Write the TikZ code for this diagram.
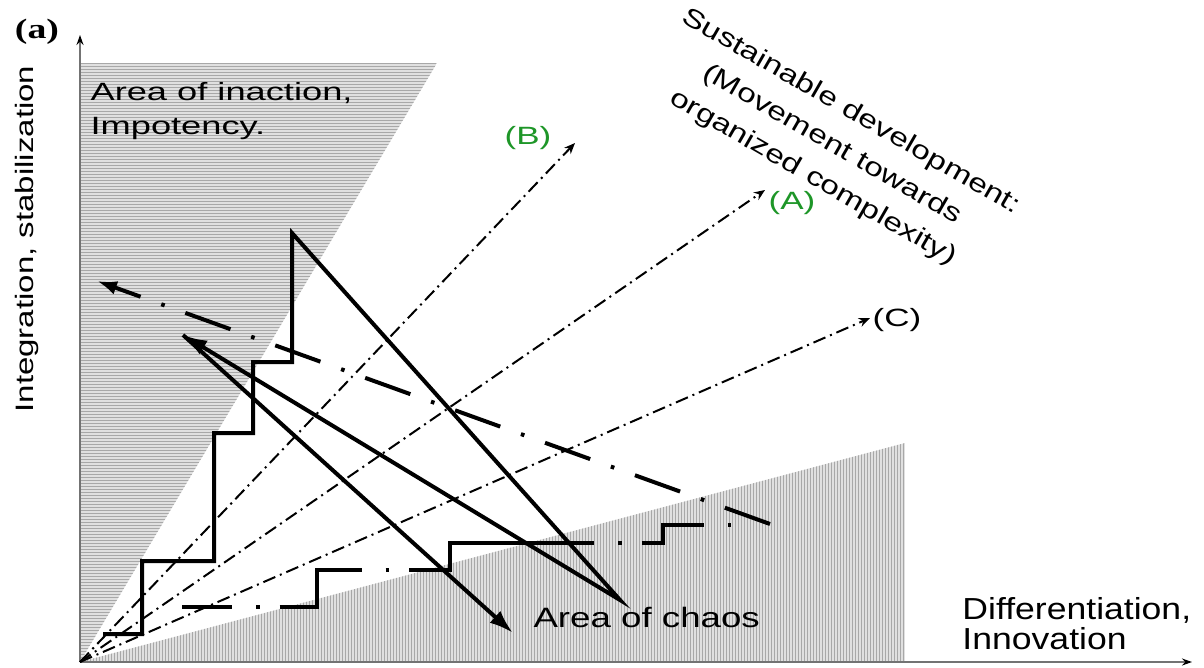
\documentclass[tikz,border=0pt]{standalone}
\usepackage{fontspec}
\setmainfont{Liberation Sans}
\newfontfamily\panelfont{Liberation Serif}
\usetikzlibrary{arrows.meta, positioning}
\definecolor{labgreen}{RGB}{30,150,40}
\definecolor{hatchfill}{gray}{0.88}
\definecolor{hatchline}{gray}{0.66}
\newcommand{\fsz}[2]{\fontsize{#1}{#2}\selectfont}

\begin{document}
\begin{tikzpicture}[
    x=0.5pt, y=-0.5pt,
    axis/.style={draw=black!55, line width=1pt, -{Stealth[length=5pt, width=3.5pt, color=black]}},
    hatch/.style={hatchline, line width=0.45pt},
    thickline/.style={line width=2pt, line join=miter},
    solidarrow/.style={thickline, -{Latex[length=12pt, width=8pt]}},
    chain/.style={line width=2pt, dash pattern=on 24pt off 11pt on 1.8pt off 11pt},
    ray/.style={line width=1pt, dash pattern=on 6.5pt off 2.5pt on 1pt off 2.5pt, -{Stealth[length=5.5pt, width=4.5pt]}},
    label/.style={inner sep=0pt, align=left},
    casename/.style={inner sep=0pt, text=labgreen, xscale=1.4, font=\fsz{12.5pt}{15pt}}
]
\useasboundingbox (0,0) rectangle (1204,668);

% Corner points
\coordinate (origin) at (80,662);
\coordinate (ytop) at (80,35);
\coordinate (xend) at (1192,662);

% Area of inaction (horizontal hatching)
\begin{scope}
\clip (80,662) -- (80,63) -- (437,63) -- cycle;
\fill[hatchfill] (80,63) rectangle (437,662);
\foreach \y in {63,66,...,660} \draw[hatch] (80,\y) -- (437,\y);
\end{scope}

% Area of chaos (vertical hatching)
\begin{scope}
\clip (80,662) -- (905,443) -- (905,662) -- cycle;
\fill[hatchfill] (80,443) rectangle (905,662);
\foreach \x in {81,84,...,905} \draw[hatch] (\x,443) -- (\x,662);
\end{scope}

% Axes
\draw[axis] (origin) -- (ytop);
\draw[axis] (origin) -- (xend);

% Texts
\node[font=\panelfont\bfseries\fsz{14pt}{16pt}, xscale=1.35, inner sep=0pt] (panel) at (37,32) {(a)};
\node[label, rotate=90, xscale=1.31, anchor=base, font=\fsz{12.6pt}{15pt}] (ylab) at (33,239) {Integration, stabilization};
\node[label, xscale=1.45, anchor=north west, font=\fsz{12.5pt}{17pt}] (inaction) at (90,82) {Area of inaction,\\Impotency.};
\node[label, xscale=1.31, anchor=base west, font=\fsz{14pt}{16pt}] (chaos) at (533,627) {Area of chaos};
\node[label, xscale=1.17, anchor=north west, font=\fsz{15.2pt}{15pt}] (xlab) at (962,597) {Differentiation,\\Innovation};
\node[inner sep=0pt, align=center, rotate=-30, xscale=1.3, font=\fsz{12.9pt}{19pt}] (sustain) at (832,145)
    {Sustainable development:\\(Movement towards\\organized complexity)};

% Development paths (A), (B), (C)
\coordinate (tipB) at (575,143);
\coordinate (tipA) at (765,190);
\coordinate (tipC) at (870,318);
\draw[ray] (origin) -- (tipB);
\draw[ray] (origin) -- (tipA);
\draw[ray] (origin) -- (tipC);
\node[casename] (labB) at (528,138) {(B)};
\node[casename] (labA) at (792,203) {(A)};
\node[casename, text=black] (labC) at (897,320) {(C)};

% Solid staircase with swings
\draw[solidarrow] (103,634) -- (142,634) -- (142,561) -- (214,561) -- (214,433) -- (253,433)
    -- (253,362) -- (292,362) -- (292,233) -- (620,600) -- (183,335);
\draw[solidarrow] (183,335) -- (513,633);

% Dash-dot staircase
\draw[line width=2pt, line join=miter,
      dash pattern=on 25pt off 12pt on 1.8pt off 10pt on 59.5pt off 12pt on 1.8pt off 10pt
      on 106pt off 12pt on 1.8pt off 10pt on 40pt off 12pt on 1.8pt off 100pt]
    (182,607) -- (317,607) -- (317,570) -- (450,570) -- (450,543) -- (663,543) -- (663,525) -- (742,525);

% Long dash-dot swing back
\draw[chain, -{Latex[length=10pt, width=7pt]}] (770,524) -- (97,281);

\end{tikzpicture}
\end{document}
